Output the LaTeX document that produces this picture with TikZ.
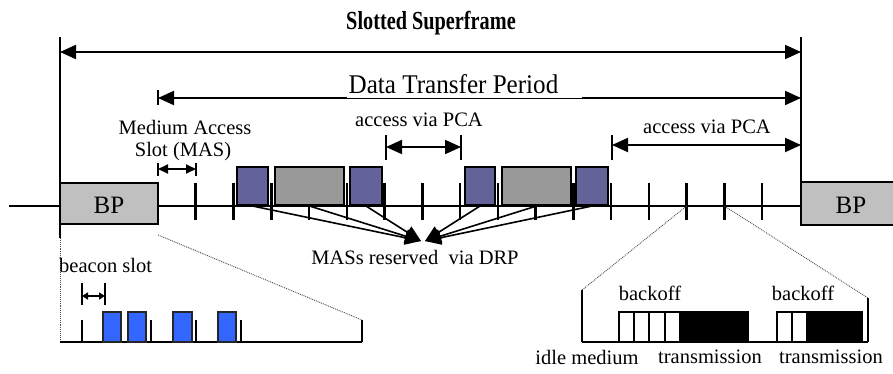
\documentclass[tikz,border=0pt]{standalone}
\usepackage{fontspec}
\setmainfont{Liberation Serif}
\usetikzlibrary{arrows.meta}
\definecolor{slotpurple}{RGB}{99,99,153}
\definecolor{slotgray}{RGB}{153,153,153}
\definecolor{bpgray}{RGB}{192,192,192}
\definecolor{beaconblue}{RGB}{51,102,255}
\begin{document}
\begin{tikzpicture}[x=1pt,y=-1pt,
  lbl/.style={font=\fontsize{20.5}{23}\selectfont, inner sep=0pt},
  bigtip/.tip={Triangle[length=16pt,width=14pt]},
  midtip/.tip={Triangle[length=10pt,width=9pt]},
  smalltip/.tip={Triangle[length=6pt,width=7pt]},
  dimline/.style={line width=2pt},
  tickline/.style={line width=1.8pt},
  slottick/.style={line width=2.6pt},
  mainline/.style={line width=2pt},
  purplebox/.style={draw=black, line width=2pt, fill=slotpurple},
  graybox/.style={draw=black, line width=2pt, fill=slotgray},
  bluebox/.style={draw=black!85, line width=1.8pt, fill=beaconblue},
  bpbox/.style={draw=black, line width=2pt, fill=bpgray},
  bptext/.style={font=\fontsize{25}{27}\selectfont, inner sep=0pt},
  dotline/.style={densely dotted, line width=0.9pt, black!70},
  baseline/.style={line width=2.4pt},
]
\useasboundingbox (0,0) rectangle (893,373);

% ---------- top dimension lines ----------
\node[font=\bfseries\fontsize{26}{28}\selectfont, inner sep=0pt] (title) at (431,23) {\scalebox{0.78}[1]{Slotted Superframe}};
\coordinate (LT) at (60,37);
\coordinate (LB) at (60,238);
\coordinate (RT) at (801,37);
\coordinate (RB) at (801,182);
\draw[mainline] (LT) -- (LB);
\draw[mainline] (RT) -- (RB);
\coordinate (SFa) at (60,52);
\coordinate (SFb) at (801,52);
\draw[dimline, bigtip-bigtip] (SFa) -- (SFb);

\coordinate (DTt) at (158,90);
\coordinate (DTb) at (158,105);
\draw[tickline] (DTt) -- (DTb);
\coordinate (DTa) at (158,98);
\coordinate (DTe) at (801,98);
\draw[dimline, bigtip-bigtip] (DTa) -- (DTe);
\fill[white] (347,88) rectangle (582,97.6);
\node[font=\fontsize{27}{29}\selectfont, inner sep=0pt] (dtp) at (453.5,84) {\scalebox{0.93}[1]{Data Transfer Period}};

% ---------- MAS ----------
\node[lbl] (mas1) at (185,127) {Medium Access};
\node[lbl] (mas2) at (183,152) {Slot (MAS)};
\coordinate (M1t) at (158,163); \coordinate (M1b) at (158,176);
\coordinate (M2t) at (196,163); \coordinate (M2b) at (196,176);
\draw[tickline] (M1t) -- (M1b);
\draw[tickline] (M2t) -- (M2b);
\coordinate (Ma) at (158,169); \coordinate (Mb) at (196,169);
\draw[dimline, midtip-midtip] (Ma) -- (Mb);

% ---------- access via PCA (middle) ----------
\node[lbl] (pca1) at (419,120) {access via PCA};
\coordinate (P1t) at (386,135); \coordinate (P1b) at (386,160);
\coordinate (P2t) at (461,135); \coordinate (P2b) at (461,160);
\draw[tickline] (P1t) -- (P1b);
\draw[tickline] (P2t) -- (P2b);
\coordinate (Pa) at (386,147); \coordinate (Pb) at (461,147);
\draw[dimline, bigtip-bigtip] (Pa) -- (Pb);

% ---------- access via PCA (right) ----------
\node[lbl] (pca2) at (707,127) {access via PCA};
\coordinate (Q1t) at (612,135); \coordinate (Q1b) at (612,160);
\draw[tickline] (Q1t) -- (Q1b);
\coordinate (Qa) at (612,145); \coordinate (Qb) at (801,145);
\draw[dimline, bigtip-bigtip] (Qa) -- (Qb);

% ---------- timeline ----------
\coordinate (T0) at (9,206);
\coordinate (T1) at (60,206);
\coordinate (T2) at (158,206);
\coordinate (T3) at (801,206);
\draw[mainline] (T0) -- (T1);
\draw[mainline] (T2) -- (T3);
\foreach \k in {1,...,16}{
  \draw[slottick] ({158+37.76*\k},183) -- ({158+37.76*\k},220);
}
\draw[bpbox] (60,183) rectangle (158,224);
\node[bptext] (bp1) at (109,205) {BP};
\draw[bpbox] (801,182) rectangle (900,225);
\node[bptext] (bp2) at (851,205) {BP};

% reserved slots
\node[purplebox, minimum width=31pt, minimum height=38pt, inner sep=0pt] (r1) at (252.5,186) {};
\node[graybox,   minimum width=69pt, minimum height=38pt, inner sep=0pt] (r2) at (309.5,186) {};
\node[purplebox, minimum width=32pt, minimum height=38pt, inner sep=0pt] (r3) at (366,186) {};
\node[purplebox, minimum width=30pt, minimum height=38pt, inner sep=0pt] (r4) at (480,186) {};
\node[graybox,   minimum width=69pt, minimum height=38pt, inner sep=0pt] (r5) at (536.5,186) {};
\node[purplebox, minimum width=32pt, minimum height=38pt, inner sep=0pt] (r6) at (592,186) {};

% DRP arrows
\coordinate (drpL) at (421,241);
\coordinate (drpR) at (425,241);
\foreach \n in {r1,r2,r3}{
  \draw[line width=1.6pt, -bigtip] (\n.south) -- (drpL);
}
\foreach \n in {r4,r5,r6}{
  \draw[line width=1.6pt, -bigtip] (\n.south) -- (drpR);
}
\node[lbl] (drp) at (415,257) {MASs reserved\ \ via DRP};

% ---------- beacon inset ----------
\coordinate (BPbr) at (158,235);
\coordinate (Bend) at (362,320);
\draw[dotline] (BPbr) -- (Bend);
\coordinate (Bl) at (60,342);
\draw[dotline] (LB) -- (Bl);
\coordinate (Br) at (362,342);
\draw[baseline] (Bl) -- (Br);
\draw[slottick] (Bend) -- (Br);
\foreach \x in {82,151,196,241}{
  \draw[slottick] (\x,320) -- (\x,342);
}
\foreach \a/\b in {103/121,128/146,173/192,218/236}{
  \draw[bluebox] (\a,312) rectangle (\b,342);
}
\node[lbl, anchor=west] (beacon) at (59,265) {beacon slot};
\coordinate (bs1t) at (82,283); \coordinate (bs1b) at (82,305);
\coordinate (bs2t) at (105,283); \coordinate (bs2b) at (105,305);
\draw[tickline] (bs1t) -- (bs1b);
\draw[tickline] (bs2t) -- (bs2b);
\coordinate (bsa) at (82,296); \coordinate (bsb) at (105,296);
\draw[line width=1.6pt, smalltip-smalltip] (bsa) -- (bsb);

% ---------- backoff inset ----------
\coordinate (Ktick1) at ({158+37.76*14},206);
\coordinate (Ktick2) at ({158+37.76*15},206);
\coordinate (Kl) at (582,290);
\coordinate (Kr) at (868,298);
\draw[dotline] (Ktick1) -- (Kl);
\draw[dotline] (Ktick2) -- (Kr);
\coordinate (Klb) at (582,342);
\coordinate (Krb) at (868,342);
\draw[mainline] (Kl) -- (Klb);
\draw[mainline] (Kr) -- (Krb);
\draw[baseline] (Klb) -- (Krb);
\foreach \a/\b in {619/634,634/649,649/665,665/680,777/792,792/807}{
  \draw[line width=2pt, fill=white] (\a,312) rectangle (\b,342);
}
\draw[line width=2pt, fill=black] (680,312) rectangle (748,342);
\draw[line width=2pt, fill=black] (807,312) rectangle (862,342);
\node[lbl] (bo1) at (650,293) {backoff};
\node[lbl] (bo2) at (803,293) {backoff};
\node[lbl] (idle) at (587,357) {idle medium};
\node[lbl] (tx1) at (710,357) {transmission};
\node[lbl] (tx2) at (831,357) {transmission};
\end{tikzpicture}
\end{document}
